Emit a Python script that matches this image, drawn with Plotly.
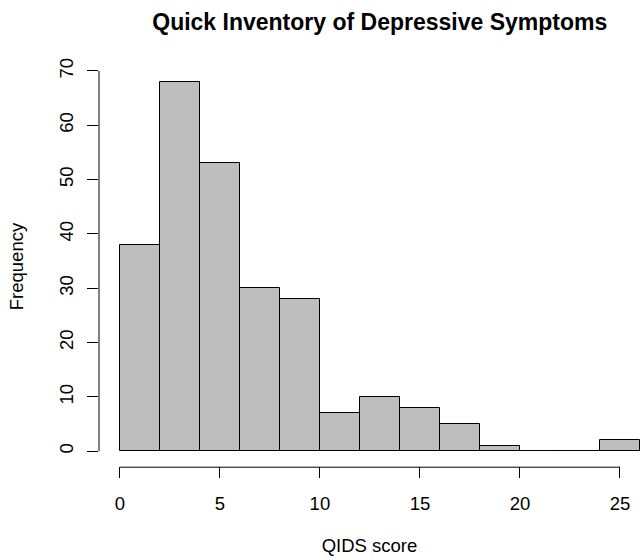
import plotly.graph_objects as go

# QIDS score histogram: bins of width 2 starting at 0
bin_left = [0, 2, 4, 6, 8, 10, 12, 14, 16, 18, 20, 22, 24]
counts = [38, 68, 53, 30, 28, 7, 10, 8, 5, 1, 0, 0, 2]
bin_width = 2

x_ticks = [0, 5, 10, 15, 20, 25]
y_ticks = [0, 10, 20, 30, 40, 50, 60, 70]

title_text = "Quick Inventory of Depressive Symptoms"
x_title = "QIDS score"
y_title = "Frequency"

FONT = "Liberation Sans, Arial, sans-serif"

centers = [b + bin_width / 2 for b in bin_left]
x_lo, x_hi = bin_left[0], bin_left[-1] + bin_width
x_pad = (x_hi - x_lo) * 0.04
y_pad = max(counts) * 0.04

fig = go.Figure(
    go.Bar(
        x=centers,
        y=counts,
        width=[bin_width] * len(counts),
        marker=dict(color="#BEBEBE", line=dict(color="black", width=1)),
        hoverinfo="skip",
    )
)

# base-graphics style axis lines spanning only the tick range
fig.add_shape(type="line", xref="paper", yref="y", x0=0, x1=0,
              y0=y_ticks[0], y1=y_ticks[-1], line=dict(color="black", width=1))
fig.add_shape(type="line", xref="x", yref="paper", x0=x_ticks[0], x1=x_ticks[-1],
              y0=-0.003, y1=-0.003, line=dict(color="black", width=1))

fig.update_layout(
    width=640,
    height=560,
    margin=dict(l=99, r=0, t=67, b=94, pad=0),
    paper_bgcolor="white",
    plot_bgcolor="white",
    showlegend=False,
    bargap=0,
    font=dict(family=FONT, size=18.5, color="black"),
    title=dict(
        text="<b>" + title_text + "</b>",
        font=dict(family=FONT, size=23, color="black"),
        xref="paper", x=0.519,
        xanchor="center",
        yref="container", y=1 - 22 / 560, yanchor="middle",
    ),
    xaxis=dict(
        range=[x_lo - x_pad, x_hi],
        tickvals=x_ticks,
        ticktext=[str(v) for v in x_ticks],
        ticks="outside",
        ticklen=11,
        tickwidth=1,
        tickcolor="black",
        ticklabelstandoff=10,
        showgrid=False,
        zeroline=False,
        showline=False,
        title=dict(text=x_title, font=dict(size=18.5), standoff=25),
    ),
    yaxis=dict(
        range=[-y_pad, max(counts) + y_pad],
        tickvals=y_ticks,
        ticktext=[str(v) for v in y_ticks],
        tickangle=-90,
        ticks="outside",
        ticklen=11,
        tickwidth=1,
        tickcolor="black",
        ticklabelstandoff=7,
        showgrid=False,
        zeroline=False,
        showline=False,
        title=dict(text=y_title, font=dict(size=18.5), standoff=27),
    ),
)

fig.write_html("out.html")
